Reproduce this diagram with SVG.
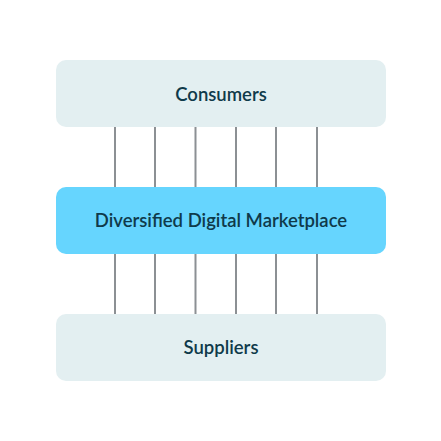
<svg xmlns="http://www.w3.org/2000/svg" width="441" height="441" viewBox="0 0 441 441">
<style>
.box{fill:#e3eff1}
.core{fill:#66d5fe}
.lbl{font-family:"Lato","Noto Sans",sans-serif;font-size:18.5px;font-weight:600;fill:#0f3a4a;text-anchor:middle}
.ln{stroke:#8c9094;stroke-width:2;fill:none}
</style>
<rect width="441" height="441" fill="#ffffff"/>
<g id="connectors">
<path class="ln" d="M115 127V187M155 127V187M195.5 127V187M236 127V187M276 127V187M317 127V187"/>
<path class="ln" d="M115 254V314M155 254V314M195.5 254V314M236 254V314M276 254V314M317 254V314"/>
</g>
<g id="consumers">
<rect class="box" x="56" y="60" width="330" height="67" rx="10"/>
<text class="lbl" x="221" y="101">Consumers</text>
</g>
<g id="marketplace">
<rect class="core" x="56" y="187" width="330" height="67" rx="10"/>
<text class="lbl" x="221" y="227">Diversified Digital Marketplace</text>
</g>
<g id="suppliers">
<rect class="box" x="56" y="314" width="330" height="67" rx="10"/>
<text class="lbl" x="221" y="354">Suppliers</text>
</g>
</svg>
